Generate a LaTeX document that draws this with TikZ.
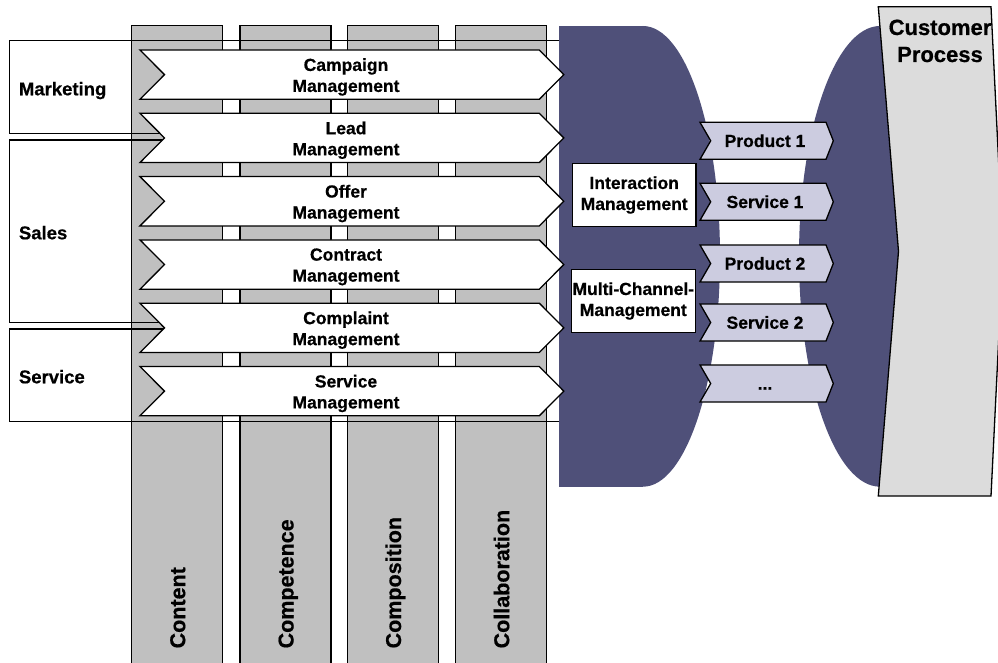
\documentclass[tikz,border=0pt]{standalone}
\usepackage{fontspec}
\setmainfont[BoldFeatures={FakeBold=0.6}]{Liberation Sans}
\definecolor{colgray}{HTML}{C0C0C0}
\definecolor{bellblue}{HTML}{4F5079}
\definecolor{lav}{HTML}{CCCCE0}
\definecolor{cpgray}{HTML}{DCDCDC}
\newcommand\mythreedots{...}
% style, xleft, xright(body), ytop, ybottom, notch depth, tip depth
\newcommand\chevshape[7][]{\draw[#1] (#2,#4) -- (#3,#4) -- ({#3+#7},{(#4+#5)/2}) -- (#3,#5) -- (#2,#5) -- ({#2+#6},{(#4+#5)/2}) -- cycle;}
\begin{document}
\begin{tikzpicture}[x=1pt,y=-1pt,line width=1.3pt,line join=miter,
  colbox/.style={draw=black,fill=colgray},
  rowbox/.style={draw=black},
  chevwhite/.style={draw=black,fill=white},
  chevlav/.style={draw=black,fill=lav},
  lbl/.style={font=\fontsize{17.5}{21}\selectfont\bfseries,align=center,inner sep=0pt},
  sidelbl/.style={font=\fontsize{18.5}{22}\selectfont\bfseries,inner sep=0pt,anchor=base west},
  collbl/.style={font=\fontsize{21.5}{25}\selectfont\bfseries,inner sep=0pt,rotate=90,anchor=base west},
  cplbl/.style={font=\fontsize{22}{27}\selectfont\bfseries,inner sep=0pt,anchor=base},
  innerbox/.style={draw=black,fill=white,minimum width=123.7pt,minimum height=63pt,lbl}]
\useasboundingbox (0,0) rectangle (998,663);
\clip (0,0) rectangle (998,663);
% columns
\draw[colbox] (131.7,25.3) rectangle (222.7,670);
\draw[colbox] (240,25.3) rectangle (331,670);
\draw[colbox] (347.7,25.3) rectangle (438.3,670);
\draw[colbox] (455.7,25.3) rectangle (546.7,670);
\node[collbl] (tcontent) at (185.2,649) {Content};
\node[collbl] (tcompetence) at (293.5,649) {Competence};
\node[collbl] (tcomposition) at (401,649) {Composition};
\node[collbl] (tcollab) at (509.2,649) {Collaboration};
% row boxes
\draw[rowbox] (9.3,40.7) rectangle (562,133.3);
\draw[rowbox] (9.3,140) rectangle (562,322.7);
\draw[rowbox] (9.3,329) rectangle (562,421.7);
\node[sidelbl] (mkt) at (18.3,95.3) {Marketing};
\node[sidelbl] (sales) at (18.3,239.3) {Sales};
\node[sidelbl] (serv) at (18.3,383.3) {Service};
% blue bells
\fill[bellblue] (559.3,26) rectangle (643,486.7);
\fill[bellblue] (643,256.35) ellipse [x radius=77,y radius=230.35];
\fill[bellblue] (880,26) rectangle (960,486.7);
\fill[bellblue] (880,256.35) ellipse [x radius=81,y radius=230.35];
% process chevrons
\foreach \i/\a/\b in {0/Campaign/Management,1/Lead/Management,2/Offer/Management,3/Contract/Management,4/Complaint/Management,5/Service/Management}{
  \pgfmathsetmacro\yt{50+63.3*\i}
  \pgfmathsetmacro\yb{\yt+49.3}
  \chevshape[chevwhite]{140}{539.3}{\yt}{\yb}{24.5}{24.5}
  \node[lbl] (cm\i) at (346,{\yt+24.65+2.3}) {\a\\\b};
}
% inner boxes
\node[innerbox] (interact) at (634.2,195) {Interaction\\Management};
\node[innerbox] (multich) at (633.3,301) {Multi-Channel-\\Management};
% product / service chevrons
\foreach \i/\yt/\t in {0/122.3/Product 1,1/183.3/Service 1,2/245/Product 2,3/304/Service 2,4/365/\mythreedots}{
  \pgfmathsetmacro\yb{\yt+37}
  \chevshape[chevlav]{700}{826}{\yt}{\yb}{10.7}{7.3}
  \node[lbl,anchor=base] (ps\i) at (765,{\yt+18.5+6.2}) {\t};
}
% customer process
\draw[draw=black,fill=cpgray] (878.3,6.7) -- (991,6.7) -- (1003,251.3) -- (991,496) -- (878.3,496) -- (898.5,251.3) -- cycle;
\node[cplbl] (cust1) at (940,35) {Customer};
\node[cplbl] (cust2) at (940,62) {Process};
\end{tikzpicture}
\end{document}
